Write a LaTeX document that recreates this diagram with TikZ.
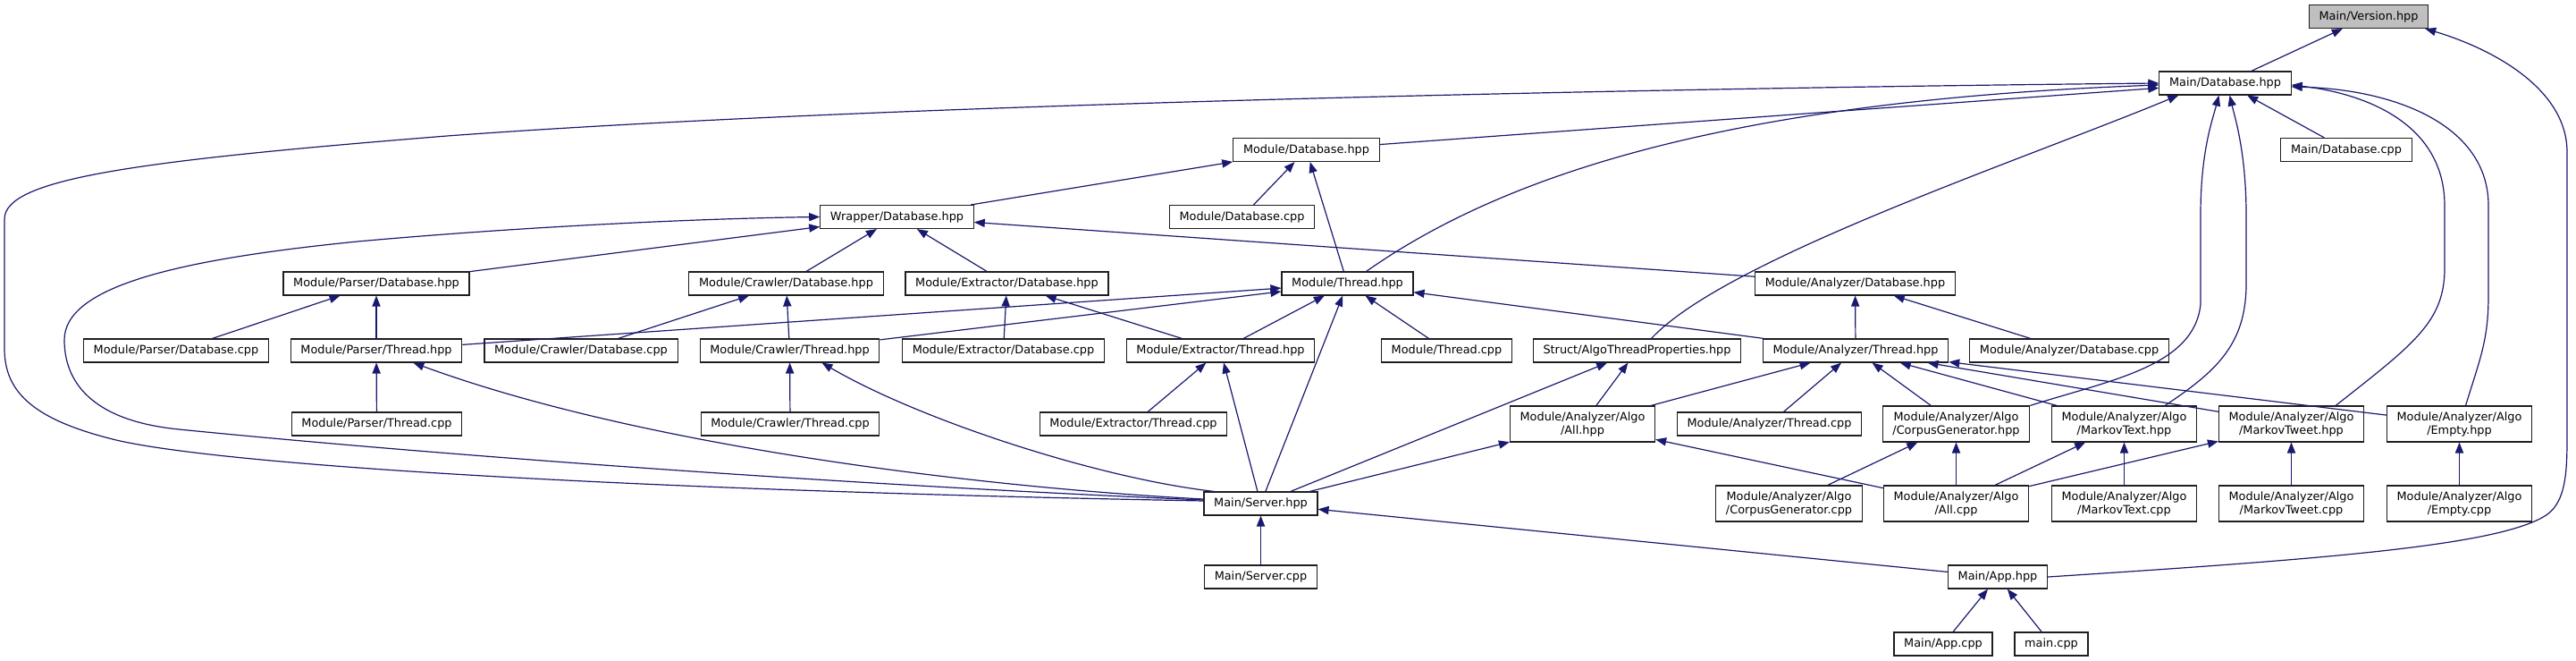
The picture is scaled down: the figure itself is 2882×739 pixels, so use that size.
\documentclass[tikz,border=0pt]{standalone}
\usepackage{fontspec}
\setmainfont{DejaVu Sans}
\usetikzlibrary{arrows.meta,calc}
\definecolor{inclcol}{RGB}{25,25,112}
\definecolor{rootcol}{RGB}{191,191,191}
\definecolor{boxcol}{RGB}{30,30,30}
\tikzset{
  hdr file/.style={draw=boxcol,fill=white,line width=0.55pt,inner xsep=5.6pt,inner ysep=0pt,
    minimum height=13pt,font=\fontsize{6.43pt}{7.5pt}\selectfont,align=center},
  hdr root/.style={hdr file,fill=rootcol},
  hdr algo/.style={hdr file,minimum height=20pt},
  incedge/.style={-{Triangle[length=6pt,width=4.6pt]},draw=inclcol,line width=0.6pt}
}
\begin{document}
\begin{tikzpicture}[x=0.5pt,y=-0.5pt]
\useasboundingbox (0,0) rectangle (2882,739);
% ---- top: main headers ----
\node[hdr root] (ver) at (2650,18.5) {Main/Version.hpp};
\node[hdr file] (mdb) at (2489.5,93) {Main/Database.hpp};
\node[hdr file] (moddb) at (1461.5,167.5) {Module/Database.hpp};
\node[hdr file] (mdbcpp) at (2625,167.5) {Main/Database.cpp};
\node[hdr file] (wrap) at (1003.5,242.5) {Wrapper/Database.hpp};
\node[hdr file] (moddbcpp) at (1389.5,242.5) {Module/Database.cpp};
% ---- module databases ----
\node[hdr file] (pdb) at (421,317) {Module/Parser/Database.hpp};
\node[hdr file] (cdb) at (879.5,317) {Module/Crawler/Database.hpp};
\node[hdr file] (edb) at (1126.5,317) {Module/Extractor/Database.hpp};
\node[hdr file] (thr) at (1507.5,317) {Module/Thread.hpp};
\node[hdr file] (adb) at (2075.5,317) {Module/Analyzer/Database.hpp};
% ---- threads ----
\node[hdr file] (pdbcpp) at (197,392) {Module/Parser/Database.cpp};
\node[hdr file] (pthr) at (421,392) {Module/Parser/Thread.hpp};
\node[hdr file] (cdbcpp) at (650,392) {Module/Crawler/Database.cpp};
\node[hdr file] (cthr) at (883.5,392) {Module/Crawler/Thread.hpp};
\node[hdr file] (edbcpp) at (1122.5,392) {Module/Extractor/Database.cpp};
\node[hdr file] (ethr) at (1365.5,392) {Module/Extractor/Thread.hpp};
\node[hdr file] (thrcpp) at (1618.5,392) {Module/Thread.cpp};
\node[hdr file] (algo) at (1831.5,392) {Struct/AlgoThreadProperties.hpp};
\node[hdr file] (athr) at (2076,392) {Module/Analyzer/Thread.hpp};
\node[hdr file] (adbcpp) at (2315,392) {Module/Analyzer/Database.cpp};
% ---- algorithms ----
\node[hdr file] (pthrcpp) at (421.5,474) {Module/Parser/Thread.cpp};
\node[hdr file] (cthrcpp) at (884,474) {Module/Crawler/Thread.cpp};
\node[hdr file] (ethrcpp) at (1268,474) {Module/Extractor/Thread.cpp};
\node[hdr algo] (allh) at (1770.5,474) {Module/Analyzer/Algo\\/All.hpp};
\node[hdr file] (athrcpp) at (1979.5,474) {Module/Analyzer/Thread.cpp};
\node[hdr algo] (cgh) at (2188.5,474) {Module/Analyzer/Algo\\/CorpusGenerator.hpp};
\node[hdr algo] (mth) at (2376.5,474) {Module/Analyzer/Algo\\/MarkovText.hpp};
\node[hdr algo] (mtwh) at (2563.5,474) {Module/Analyzer/Algo\\/MarkovTweet.hpp};
\node[hdr algo] (emh) at (2751.5,474) {Module/Analyzer/Algo\\/Empty.hpp};
\node[hdr file] (srv) at (1410.5,563) {Main/Server.hpp};
\node[hdr algo] (cgc) at (2001.5,563) {Module/Analyzer/Algo\\/CorpusGenerator.cpp};
\node[hdr algo] (allc) at (2188.5,563) {Module/Analyzer/Algo\\/All.cpp};
\node[hdr algo] (mtc) at (2376.5,563) {Module/Analyzer/Algo\\/MarkovText.cpp};
\node[hdr algo] (mtwc) at (2563.5,563) {Module/Analyzer/Algo\\/MarkovTweet.cpp};
\node[hdr algo] (emc) at (2751.5,563) {Module/Analyzer/Algo\\/Empty.cpp};
% ---- bottom: app ----
\node[hdr file] (srvcpp) at (1410.5,645) {Main/Server.cpp};
\node[hdr file] (app) at (2235,645) {Main/App.hpp};
\node[hdr file] (appcpp) at (2174,720) {Main/App.cpp};
\node[hdr file] (maincpp) at (2295,720) {main.cpp};
% ---- straight includes ----
\foreach \a/\b in {mdb/ver,moddb/mdb,mdbcpp/mdb,wrap/moddb,moddbcpp/moddb,thr/moddb,
  pdb/wrap,cdb/wrap,edb/wrap,adb/wrap,pdbcpp/pdb,pthr/pdb,cdbcpp/cdb,cthr/cdb,
  edbcpp/edb,ethr/edb,athr/adb,adbcpp/adb,pthr/thr,cthr/thr,ethr/thr,thrcpp/thr,
  athr/thr,srv/thr,pthrcpp/pthr,cthrcpp/cthr,ethrcpp/ethr,srv/ethr,srv/algo,
  allh/algo,allh/athr,athrcpp/athr,cgh/athr,mth/athr,mtwh/athr,emh/athr,srv/allh,
  allc/allh,cgc/cgh,allc/cgh,allc/mth,mtc/mth,allc/mtwh,mtwc/mtwh,emc/emh,
  srvcpp/srv,app/srv,appcpp/app,maincpp/app}{
  \draw[incedge] (\a)--(\b);}
% ---- curved includes ----
\draw[incedge] ($(srv.west)+(0,-3)$) .. controls (700,548) and (250,520) .. (130,492)
  .. controls (40,470) and (5,440) .. (5,390) -- (5,245)
  .. controls (5,200) and (150,180) .. (500,152)
  .. controls (1000,115) and (1900,98) .. (mdb.west);
\draw[incedge] ($(srv.west)+(0,-4)$) .. controls (900,540) and (450,505) .. (200,480)
  .. controls (100,470) and (72,425) .. (72,380)
  .. controls (72,320) and (200,290) .. (400,270)
  .. controls (600,252) and (800,244) .. (wrap.west);
\draw[incedge] ($(srv.west)+(0,-5)$) .. controls (1100,545) and (720,500) .. ($(pthr.south east)+(-55,0)$);
\draw[incedge] ($(srv.north west)+(12,0)$) .. controls (1230,535) and (1030,470) .. ($(cthr.south east)+(-65,0)$);
\draw[incedge] ($(thr.north east)+(-53,0)$) .. controls (1690,190) and (1950,112) .. ($(mdb.west)+(0,2)$);
\draw[incedge] ($(algo.north)+(16,0)$) .. controls (1930,290) and (2260,180) .. ($(mdb.south west)+(22,0)$);
\draw[incedge] (cgh.north east) .. controls (2360,425) and (2455,410) .. (2462,340) -- (2462,240)
  .. controls (2462,170) and (2475,135) .. ($(mdb.south)+(-7,0)$);
\draw[incedge] ($(mth.north east)+(-36,0)$) .. controls (2480,415) and (2512,385) .. (2513,320) -- (2513,240)
  .. controls (2513,170) and (2500,130) .. ($(mdb.south)+(5,0)$);
\draw[incedge] ($(mtwh.north east)+(-32,0)$) .. controls (2700,385) and (2735,360) .. (2735,300) -- (2735,230)
  .. controls (2735,140) and (2650,105) .. ($(mdb.east)+(0,2)$);
\draw[incedge] ($(emh.north)+(7,0)$) .. controls (2775,400) and (2784,380) .. (2784,330) -- (2784,230)
  .. controls (2784,140) and (2680,100) .. ($(mdb.east)+(0,4)$);
\draw[incedge] (app.east) .. controls (2600,625) and (2800,610) .. (2850,575)
  .. controls (2870,560) and (2872,530) .. (2872,490) -- (2872,170)
  .. controls (2872,100) and (2790,55) .. ($(ver.south east)+(-4,0)$);
\end{tikzpicture}
\end{document}
